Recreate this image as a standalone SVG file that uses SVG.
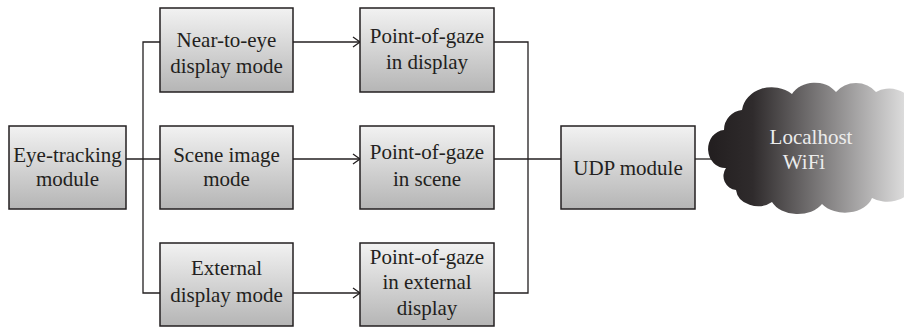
<svg xmlns="http://www.w3.org/2000/svg" width="904" height="330" viewBox="0 0 904 330">
<defs>
<linearGradient id="boxg" x1="0" y1="0" x2="0" y2="1">
<stop offset="0" stop-color="#f2f2f2"/>
<stop offset="1" stop-color="#b5b5b5"/>
</linearGradient>
<linearGradient id="cloudg" gradientUnits="userSpaceOnUse" x1="712" y1="0" x2="915" y2="0">
<stop offset="0" stop-color="#231f20"/>
<stop offset="0.2" stop-color="#2f2b2c"/>
<stop offset="1" stop-color="#e8e8e8"/>
</linearGradient>
<marker id="arr" markerWidth="12" markerHeight="12" refX="9" refY="6" orient="auto" markerUnits="userSpaceOnUse">
<path d="M2,1 L9,6 L2,11" fill="none" stroke="#231f20" stroke-width="1.3"/>
</marker>
</defs>
<style>
.box{fill:url(#boxg);stroke:#231f20;stroke-width:1.5}
.t{font-family:"Liberation Serif","Times New Roman",serif;font-size:21px;fill:#231f20;text-anchor:middle}
.ct{font-family:"Liberation Serif","Times New Roman",serif;font-size:21px;fill:#ececec;text-anchor:middle}
.c{fill:none;stroke:#231f20;stroke-width:1.3}
</style>
<g id="connectors">
<line class="c" x1="126" y1="159" x2="160" y2="159"/>
<polyline class="c" points="160,42 143,42 143,293 160,293"/>
<line class="c" x1="293" y1="42" x2="360" y2="42" marker-end="url(#arr)"/>
<line class="c" x1="293" y1="159" x2="360" y2="159" marker-end="url(#arr)"/>
<line class="c" x1="293" y1="293" x2="360" y2="293" marker-end="url(#arr)"/>
<polyline class="c" points="494,42 528,42 528,293 494,293"/>
<line class="c" x1="494" y1="159" x2="561" y2="159"/>
<line class="c" x1="695" y1="159" x2="722" y2="159"/>
</g>
<g id="eye-tracking">
<rect class="box" x="9" y="126" width="117" height="83"/>
<text class="t" x="67.5" y="162">Eye-tracking</text>
<text class="t" x="67.5" y="186">module</text>
</g>
<g id="near-to-eye">
<rect class="box" x="160" y="8" width="133" height="84"/>
<text class="t" x="226.5" y="47">Near-to-eye</text>
<text class="t" x="226.5" y="73">display mode</text>
</g>
<g id="scene-image">
<rect class="box" x="160" y="126" width="133" height="83"/>
<text class="t" x="226.5" y="162">Scene image</text>
<text class="t" x="226.5" y="186">mode</text>
</g>
<g id="external-display">
<rect class="box" x="160" y="243" width="133" height="83"/>
<text class="t" x="226.5" y="275">External</text>
<text class="t" x="226.5" y="302">display mode</text>
</g>
<g id="pog-display">
<rect class="box" x="360" y="8" width="134" height="84"/>
<text class="t" x="427" y="43">Point-of-gaze</text>
<text class="t" x="427" y="69">in display</text>
</g>
<g id="pog-scene">
<rect class="box" x="360" y="126" width="134" height="83"/>
<text class="t" x="427" y="159">Point-of-gaze</text>
<text class="t" x="427" y="186">in scene</text>
</g>
<g id="pog-external">
<rect class="box" x="360" y="243" width="134" height="83"/>
<text class="t" x="427" y="264">Point-of-gaze</text>
<text class="t" x="427" y="289">in external</text>
<text class="t" x="427" y="315">display</text>
</g>
<g id="udp">
<rect class="box" x="561" y="126" width="134" height="83"/>
<text class="t" x="628" y="175">UDP module</text>
</g>
<g id="cloud">
<path fill="url(#cloudg)" d="M724,130 A20,20 0 0 1 742,110 A30,26 0 0 1 792,94 A26,22 0 0 1 836,92 A24,20 0 0 1 876,92 A24,20 0 0 1 912,102 L912,188 A26,20 0 0 1 872,198 A28,20 0 0 1 822,204 A28,20 0 0 1 772,202 A22,18 0 0 1 736,190 A14,14 0 0 1 726,168 A16,18 0 0 1 724,130 Z"/>
<text class="ct" x="811" y="144">Localhost</text>
<text class="ct" x="804" y="169">WiFi</text>
</g>
</svg>
